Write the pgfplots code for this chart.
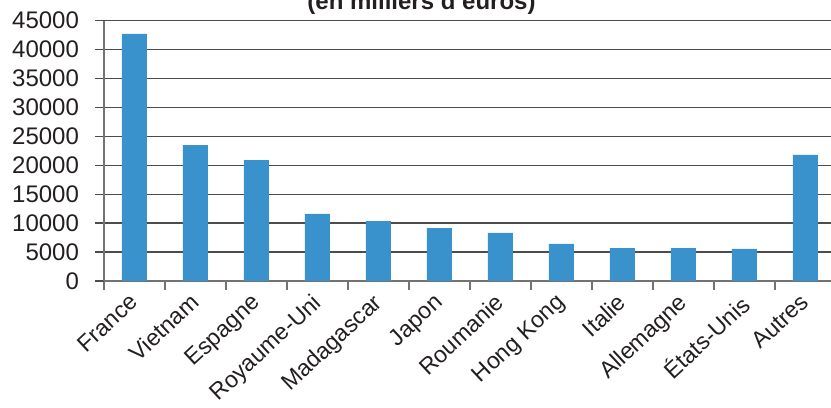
\documentclass[border=0pt]{standalone}
\usepackage{fontspec}
\setmainfont{Liberation Sans}
\usepackage{pgfplots}
\pgfplotsset{compat=1.18}
\definecolor{barblue}{RGB}{58,146,205}
\definecolor{txt}{RGB}{35,31,32}
\begin{document}
\begin{tikzpicture}
\begin{axis}[
  name=ax,
  at={(0,0)}, anchor=south west,
  scale only axis,
  width=363.5pt, height=130.15pt,
  xmin=-0.5, xmax=11.42,
  ymin=0, ymax=45000,
  axis x line*=bottom,
  axis y line*=left,
  axis line style={draw=black!55, line width=0.7pt},
  xtick={0,...,11},
  xticklabels={France,Vietnam,Espagne,Royaume-Uni,Madagascar,Japon,Roumanie,Hong Kong,Italie,Allemagne,États-Unis,Autres},
  minor xtick={-0.5,0.5,...,10.5},
  major x tick style={draw=none},
  minor x tick style={draw=black!55, line width=0.7pt},
  tick align=outside,
  major tick length=4.5pt,
  minor tick length=4.5pt,
  ytick={0,5000,...,45000},
  y tick style={draw=black!70, line width=0.7pt},
  ymajorgrids,
  grid style={draw=black!70, line width=0.7pt},
  scaled y ticks=false,
  /pgf/number format/.cd, 1000 sep={}, assume math mode=true,
  /pgfplots/.cd,
  ticklabel style={font=\fontsize{12}{14}\selectfont, text=txt},
  yticklabel style={xshift=-4.5pt},
  xticklabel style={font=\fontsize{11.6}{14}\selectfont, rotate=43, anchor=north east, inner sep=1pt, xshift=-2pt, yshift=2.5pt},
  ybar, bar width=12.5pt,
  clip=false,
]
\addplot[fill=barblue, draw=none] coordinates {
  (0,42700) (1,23500) (2,20900) (3,11600) (4,10350) (5,9150)
  (6,8300) (7,6400) (8,5700) (9,5700) (10,5530) (11,21800)
};
\end{axis}
\node[anchor=base, font=\fontsize{12}{14}\selectfont\bfseries, text=txt]
  at ([xshift=158.75pt, yshift=5.35pt]ax.north west) {(en milliers d'euros)};
\pgfresetboundingbox
\path[use as bounding box] ([xshift=-52pt, yshift=-63.5pt]ax.south west) rectangle ([yshift=10.35pt]ax.north east);
\end{tikzpicture}
\end{document}
